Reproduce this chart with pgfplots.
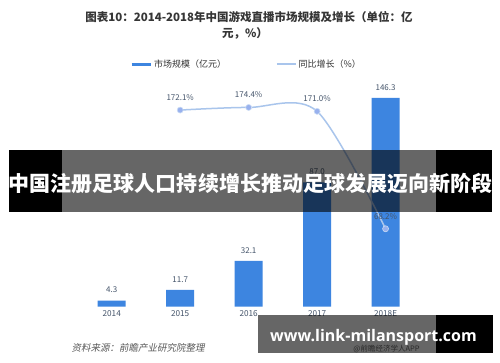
\documentclass[border=0pt]{standalone}
\usepackage{pgfplots}
\pgfplotsset{compat=1.18}
\usepackage{fontspec}
\setmainfont{Noto Sans CJK SC}
\newfontfamily\srcfont[FakeSlant=0.2]{Noto Sans CJK SC}
\newfontfamily\wmfont{Open Sans}
\definecolor{barblue}{HTML}{3D85E0}
\definecolor{lineblue}{HTML}{A9C5EC}
\definecolor{lblgray}{HTML}{44546A}
\definecolor{titlegray}{HTML}{363636}
\begin{document}
\begin{tikzpicture}[x=1pt,y=1pt]
\path[use as bounding box, fill=white] (0,0) rectangle (500,362);
\node[font=\bfseries\fontsize{11.5}{13}\selectfont, text=titlegray] at (249,345) {图表10：2014-2018年中国游戏直播市场规模及增长（单位：亿};
\node[font=\bfseries\fontsize{11.5}{13}\selectfont, text=titlegray] at (245,329) {元，\%）};
\begin{axis}[
  at={(77.5pt,55.3pt)}, anchor=south west,
  width=342.3pt, height=228.5pt, scale only axis,
  xmin=-0.5, xmax=4.5, ymin=0, ymax=160,
  axis line style={draw=none}, major tick length=0pt,
  ytick=\empty, xtick={0,1,2,3,4},
  xticklabels={2014,2015,2016,2017,2018E},
  xticklabel style={font=\fontsize{8.2}{9}\selectfont, text=lblgray},
  ybar, bar width=28pt,
  nodes near coords,
  every node near coord/.append style={font=\fontsize{8}{9}\selectfont, text=lblgray, yshift=4pt},
  /pgf/number format/.cd, fixed, fixed zerofill, precision=1, assume math mode=true,
]
\addplot[fill=barblue, draw=none] coordinates {(0,4.3) (1,11.7) (2,32.1) (3,87.0) (4,146.3)};
\end{axis}
\begin{axis}[
  at={(77.5pt,55.3pt)}, anchor=south west,
  width=342.3pt, height=228.5pt, scale only axis,
  xmin=-0.5, xmax=4.5, ymin=0, ymax=200,
  axis line style={draw=none}, major tick length=0pt,
  ytick=\empty, xtick=\empty,
  legend columns=2,
  legend style={at={(0.494,1.062)}, anchor=center, draw=none, fill=none,
    font=\fontsize{9}{10}\selectfont, text=black!80,
    /tikz/every even column/.append style={column sep=48pt}},
  legend image code/.code={\draw[#1] (0pt,0pt) -- (19pt,0pt);},
]
\addlegendimage{barblue, line width=3pt}
\addlegendentry{市场规模（亿元）}
\addplot[smooth, lineblue, line width=1.5pt, mark=*, mark size=3pt,
  mark options={fill=lineblue!90!blue, draw=lineblue!60, line width=0.6pt},
  nodes near coords={\pgfmathprintnumber[fixed,fixed zerofill,precision=1,assume math mode=true]{\pgfplotspointmeta}\%},
  every node near coord/.append style={font=\fontsize{8}{9}\selectfont, text=lblgray, yshift=6pt}]
  coordinates {(1,172.1) (2,174.4) (3,171.0) (4,68.2)};
\addlegendentry{同比增长（\%）}
\end{axis}
\node[font=\srcfont\fontsize{9.5}{11}\selectfont, text=black!65, anchor=west] at (68,14) {资料来源：前瞻产业研究院整理};
\node[font=\fontsize{7.5}{9}\selectfont, text=black!60] at (386.5,13) {@前瞻经济学人APP};
% banner
\fill[black] (9,150) rectangle (62,212);
\fill[black, opacity=0.6] (62,150) rectangle (436,212);
\fill[black] (436,150) rectangle (492,212);
\node[text=white, font=\bfseries\fontsize{21}{22}\selectfont] at (250.5,179) {中国注册足球人口持续增长推动足球发展迈向新阶段};
% bottom watermark
\fill[black, opacity=0.6] (258,9) rectangle (436,47);
\fill[black] (436,9) rectangle (493,47);
\node[text=white, font=\wmfont\bfseries\fontsize{16}{18}\selectfont] at (373.5,25) {www.link-milansport.com};
\end{tikzpicture}
\end{document}
